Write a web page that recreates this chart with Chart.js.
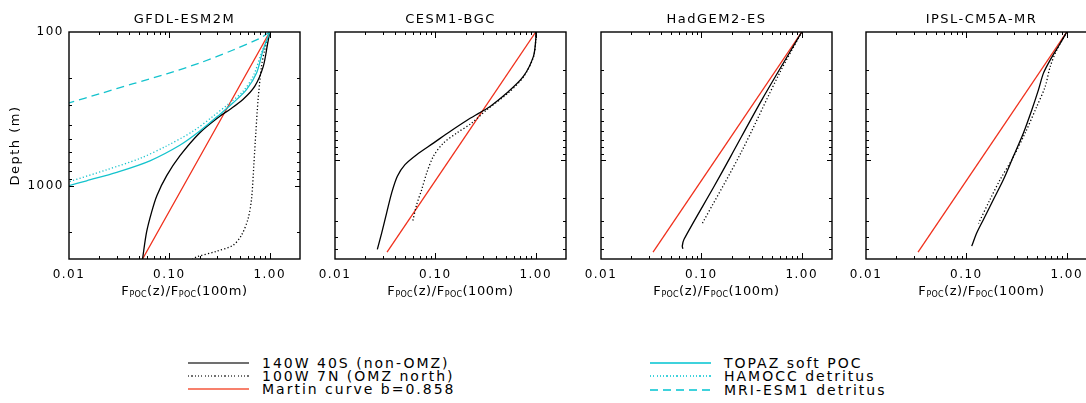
<!DOCTYPE html>
<html>
<head>
<meta charset="utf-8">
<script src="https://cdn.jsdelivr.net/npm/chart.js@4.4.1/dist/chart.umd.min.js"></script>
<style>
  html, body { margin: 0; width: 1086px; height: 403px; overflow: hidden; background: #fff; }
  body { position: relative; font-family: 'DejaVu Sans', sans-serif; color: #000; }
  .panel { position: absolute; top: 0; width: 305px; height: 310px; }
  .panel canvas { position: absolute; left: 0; top: 0; }
  .xlabel { position: absolute; left: 69px; top: 283px; width: 231px; text-align: center; font-size: 13px; line-height: 16px; letter-spacing: 0.6px; white-space: nowrap; }
  .xlabel sub { font-size: 8px; vertical-align: baseline; position: relative; top: 2px; letter-spacing: 0.3px; }
  .legend-row { position: absolute; height: 14px; font-size: 14px; line-height: 14px; letter-spacing: 2px; white-space: nowrap; }
  .legend-line { position: absolute; left: 0; top: 6px; width: 61px; height: 2px; }
  .legend-row span { position: absolute; left: 74px; top: 0; }
</style>
</head>
<body>
<script>
// tick marks
const xTickValues = [0.01, 0.1, 1]
const xMinorTicks = [0.02, 0.03, 0.04, 0.05, 0.06, 0.07, 0.08, 0.09, 0.2, 0.3, 0.4, 0.5, 0.6, 0.7, 0.8, 0.9]
const xMajorTicks = [0.1, 1]
const yTickValues = [100, 1000]
const yMinorShallow = [200, 300, 400, 500, 600, 700, 800, 900, 2000]
const yMinorDeep = [200, 300, 400, 500, 600, 700, 800, 900, 2000, 3000, 4000, 5000]
const yMajorTicks = [1000]

// GFDL-ESM2M
const gfdlBlackDepth = [100, 120, 168, 225, 275, 319, 353, 452, 640, 861, 1161, 1485, 2000, 3000]
const gfdlBlack = [1.0, 0.95, 0.86, 0.71, 0.54, 0.40, 0.318, 0.201, 0.127, 0.094, 0.075, 0.0665, 0.0593, 0.054]
const gfdlDottedDepth = [100, 131, 168, 275, 452, 743, 1219, 1640, 2104, 2443, 2672, 2905, 3000]
const gfdlDotted = [1.0, 0.89, 0.826, 0.765, 0.726, 0.693, 0.658, 0.608, 0.522, 0.43, 0.295, 0.187, 0.17]
const topazDepth = [100, 131, 185, 237, 289, 344, 441, 546, 689, 819, 929, 1000]
const topaz = [1.0, 0.857, 0.738, 0.586, 0.431, 0.318, 0.201, 0.127, 0.064, 0.0299, 0.015, 0.01]
const hamoccDepth = [100, 137, 194, 243, 289, 353, 441, 551, 665, 788, 942]
const hamocc = [1.0, 0.826, 0.683, 0.542, 0.40, 0.273, 0.173, 0.094, 0.0508, 0.0237, 0.01]
const mriDepth = [100, 110, 131, 159, 187, 217, 252, 289]
const mri = [1.0, 0.794, 0.431, 0.201, 0.094, 0.0437, 0.0203, 0.01]
const gfdlMartinDepth = [100, 3000]
const gfdlMartin = [1.0, 0.054]

// CESM1-BGC
const cesmBlackDepth = [100, 115, 156, 223, 301, 383, 427, 493, 601, 742, 914, 1094, 1349, 1820, 2612, 3743, 5050]
const cesmBlack = [1.0, 1.0, 0.946, 0.752, 0.514, 0.351, 0.279, 0.205, 0.14, 0.0955, 0.0651, 0.0498, 0.0418, 0.0367, 0.0327, 0.0292, 0.0264]
const cesmDottedDepth = [100, 115, 156, 223, 301, 406, 517, 619, 742, 942, 1271, 1713, 2250, 3035]
const cesmDotted = [1.0, 1.0, 0.95, 0.76, 0.53, 0.325, 0.23, 0.163, 0.12, 0.0955, 0.082, 0.0731, 0.0651, 0.0594]

// HadGEM2-ES
const hadBlackDepth = [100, 340, 942, 1617, 4217, 4758, 4985]
const hadBlack = [1.0, 0.40, 0.196, 0.134, 0.067, 0.0645, 0.0655]
const hadDottedDepth = [100, 210, 887, 3162]
const hadDotted = [1.0, 0.60, 0.247, 0.102]

// IPSL-CM5A-MR
const ipslBlackDepth = [100, 123, 166, 210, 284, 406, 618, 942, 1432, 2053, 2944, 3743, 4758]
const ipslBlack = [1.0, 0.859, 0.683, 0.586, 0.522, 0.449, 0.37, 0.294, 0.234, 0.186, 0.148, 0.127, 0.113]
const ipslDottedDepth = [100, 138, 187, 267, 383, 618, 1000, 1432, 2053, 3162]
const ipslDotted = [1.0, 0.796, 0.683, 0.61, 0.503, 0.385, 0.284, 0.217, 0.172, 0.132]

const deepMartinDepth = [100, 5300]
const deepMartin = [1.0, 0.033]

const black = '#000000'
const red = '#f0301c'
const cyan = '#14c3cd'

const styles = {
  solid: { borderColor: black },
  dotted: { borderColor: black, borderDash: [1.2, 2.2] },
  martin: { borderColor: red },
  topaz: { borderColor: cyan },
  hamocc: { borderColor: cyan, borderDash: [1.2, 2.2] },
  mri: { borderColor: cyan, borderDash: [8, 5] },
}

const panels = [
  {
    title: 'GFDL-ESM2M', left: 0, yMax: 3000, showY: true, yMinor: yMinorShallow,
    series: [
      [mriDepth, mri, 'mri'],
      [hamoccDepth, hamocc, 'hamocc'],
      [topazDepth, topaz, 'topaz'],
      [gfdlDottedDepth, gfdlDotted, 'dotted'],
      [gfdlBlackDepth, gfdlBlack, 'solid'],
      [gfdlMartinDepth, gfdlMartin, 'martin'],
    ],
  },
  {
    title: 'CESM1-BGC', left: 266, yMax: 6000, showY: false, yMinor: yMinorDeep,
    series: [
      [cesmDottedDepth, cesmDotted, 'dotted'],
      [cesmBlackDepth, cesmBlack, 'solid'],
      [deepMartinDepth, deepMartin, 'martin'],
    ],
  },
  {
    title: 'HadGEM2-ES', left: 532, yMax: 6000, showY: false, yMinor: yMinorDeep,
    series: [
      [hadDottedDepth, hadDotted, 'dotted'],
      [hadBlackDepth, hadBlack, 'solid'],
      [deepMartinDepth, deepMartin, 'martin'],
    ],
  },
  {
    title: 'IPSL-CM5A-MR', left: 797, yMax: 6000, showY: false, yMinor: yMinorDeep,
    series: [
      [ipslDottedDepth, ipslDotted, 'dotted'],
      [ipslBlackDepth, ipslBlack, 'solid'],
      [deepMartinDepth, deepMartin, 'martin'],
    ],
  },
]

const legendGray = '#707070'
const legendRed = '#f7806c'
const legendCyan = '#3fd2dc'
const legendItems = [
  { text: '140W 40S (non-OMZ)', fill: legendGray, x: 188, y: 363 },
  { text: '100W 7N (OMZ north)', fill: `repeating-linear-gradient(to right, ${legendGray} 0 1.2px, transparent 1.2px 3.3px)`, x: 188, y: 376 },
  { text: 'Martin curve b=0.858', fill: legendRed, x: 188, y: 389 },
  { text: 'TOPAZ soft POC', fill: legendCyan, x: 650, y: 363 },
  { text: 'HAMOCC detritus', fill: `repeating-linear-gradient(to right, ${legendCyan} 0 1.2px, transparent 1.2px 3.3px)`, x: 650, y: 376 },
  { text: 'MRI-ESM1 detritus', fill: `repeating-linear-gradient(to right, ${legendCyan} 0 8px, transparent 8px 13px)`, x: 650, y: 390 },
]

// IDL style frame: closed box with ticks pointing inwards on all four sides
const insideTicks = {
  id: 'insideTicks',
  beforeUpdate(chart) {
    chart.ctx.letterSpacing = '1.5px'
  },
  beforeDraw(chart) {
    chart.ctx.letterSpacing = '1.5px'
  },
  afterDatasetsDraw(chart, args, opts) {
    const { ctx, chartArea, scales } = chart
    const { left, right, top, bottom } = chartArea
    ctx.save()
    ctx.strokeStyle = '#000'
    ctx.lineWidth = 1
    ctx.beginPath()
    const xTick = (value, len) => {
      const px = Math.round(scales.x.getPixelForValue(value)) + 0.5
      ctx.moveTo(px, bottom); ctx.lineTo(px, bottom - len)
      ctx.moveTo(px, top); ctx.lineTo(px, top + len)
    }
    const yTick = (value, len) => {
      const py = Math.round(scales.y.getPixelForValue(value)) + 0.5
      ctx.moveTo(left, py); ctx.lineTo(left + len, py)
      ctx.moveTo(right, py); ctx.lineTo(right - len, py)
    }
    xMinorTicks.forEach(v => xTick(v, 3))
    xMajorTicks.forEach(v => xTick(v, 6))
    opts.yMinor.forEach(v => yTick(v, 3))
    yMajorTicks.forEach(v => yTick(v, 5))
    ctx.stroke()
    ctx.lineWidth = 1.4
    ctx.strokeRect(left, top, right - left, bottom - top)
    ctx.restore()
  },
}

Chart.defaults.font.family = "'DejaVu Sans', sans-serif"
Chart.defaults.color = '#000'

function renderPanel(panel) {
  const wrap = document.createElement('div')
  wrap.className = 'panel'
  wrap.style.left = panel.left + 'px'

  const canvas = document.createElement('canvas')
  canvas.width = 305
  canvas.height = 310
  canvas.style.width = '305px'
  canvas.style.height = '310px'

  const label = document.createElement('div')
  label.className = 'xlabel'
  label.innerHTML = 'F<sub>POC</sub>(z)/F<sub>POC</sub>(100m)'

  wrap.append(canvas, label)
  document.body.append(wrap)

  const datasets = panel.series.map(([depth, flux, style]) => ({
    data: depth.map((d, i) => ({ x: flux[i], y: d })),
    showLine: true,
    pointRadius: 0,
    borderWidth: 1.3,
    tension: 0.3,
    fill: false,
    ...styles[style],
  }))

  new Chart(canvas.getContext('2d'), {
    type: 'scatter',
    data: { datasets },
    options: {
      responsive: false,
      animation: false,
      devicePixelRatio: 1,
      layout: { padding: { top: 0, right: 5, bottom: 0, left: 0 } },
      plugins: {
        legend: { display: false },
        tooltip: { enabled: false },
        title: {
          display: true,
          text: panel.title,
          fullSize: false,
          color: '#000',
          font: { size: 13, weight: 'normal', lineHeight: 1.2 },
          padding: { top: 12, bottom: 4.4 },
        },
        insideTicks: { yMinor: panel.yMinor },
      },
      scales: {
        x: {
          type: 'logarithmic',
          min: 0.01,
          max: 2,
          bounds: 'data',
          grid: { display: false, drawTicks: false },
          border: { display: false },
          afterBuildTicks: axis => { axis.ticks = xTickValues.map(value => ({ value })) },
          afterFit: axis => { axis.height = 51 },
          ticks: {
            color: '#000',
            font: { size: 12 },
            padding: 9,
            maxRotation: 0,
            autoSkip: false,
            callback: value => Number(value).toFixed(2),
          },
        },
        y: {
          type: 'logarithmic',
          reverse: true,
          min: 100,
          max: panel.yMax,
          bounds: 'data',
          grid: { display: false, drawTicks: false },
          border: { display: false },
          afterBuildTicks: axis => { axis.ticks = yTickValues.map(value => ({ value })) },
          afterFit: axis => { axis.width = 69 },
          ticks: {
            display: panel.showY,
            color: '#000',
            font: { size: 12 },
            padding: 5,
            autoSkip: false,
            callback: value => String(value),
          },
          title: {
            display: panel.showY,
            text: 'Depth (m)',
            color: '#000',
            font: { size: 13 },
            padding: { top: 8, bottom: 0 },
          },
        },
      },
    },
    plugins: [insideTicks],
  })
}

function renderLegend(items) {
  for (const item of items) {
    const row = document.createElement('div')
    row.className = 'legend-row'
    row.style.left = item.x + 'px'
    row.style.top = (item.y - 7) + 'px'

    const line = document.createElement('div')
    line.className = 'legend-line'
    line.style.background = item.fill

    const text = document.createElement('span')
    text.textContent = item.text

    row.append(line, text)
    document.body.append(row)
  }
}

panels.forEach(renderPanel)
renderLegend(legendItems)
</script>
</body>
</html>
